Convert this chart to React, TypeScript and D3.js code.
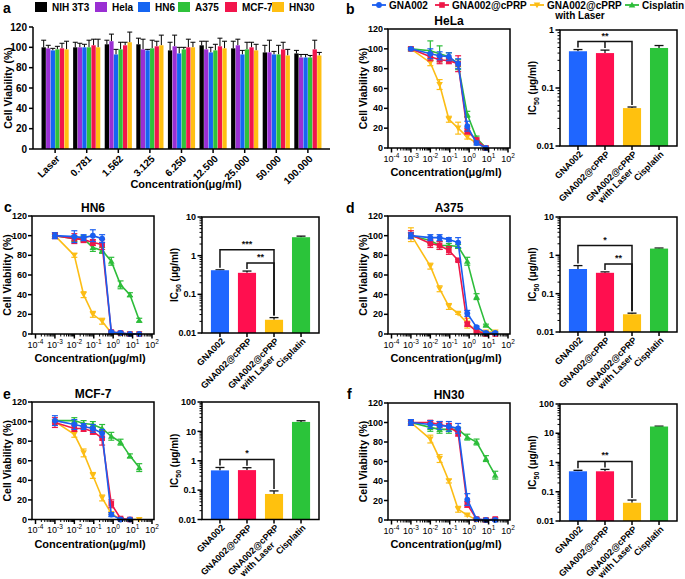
import React from 'react';
import * as d3 from 'd3';

const FONT = 'Arial, "Liberation Sans", Helvetica, sans-serif';

// panel a: viability of six cell lines (no laser vs. GNA002@cPRP doses)
const CELL_LINES = ['NIH 3T3', 'Hela', 'HN6', 'A375', 'MCF-7', 'HN30'];
const CELL_COLORS = ['#000000', '#9a2fd3', '#1565f2', '#2fc23b', '#f2154c', '#ffbf12'];
const DOSE_LABELS = ['Laser', '0.781', '1.562', '3.125', '6.250', '12.500', '25.000', '50.000', '100.000'];
const NIH3T3_VIAB = [100, 100, 103, 103, 97, 102, 99, 95, 94];
const NIH3T3_ERR = [7, 5, 4, 6, 8, 4, 7, 7, 3];
const HELA_VIAB = [99, 100, 106, 98, 101, 98, 102, 95, 90];
const HELA_ERR = [3, 4, 7, 10, 11, 8, 6, 12, 3];
const HN6_VIAB = [97, 100, 93, 97, 94, 95, 93, 93, 90];
const HN6_ERR = [2, 3, 5, 1, 6, 5, 4, 3, 3];
const A375_VIAB = [98, 100, 98, 99, 98, 97, 98, 93, 90];
const A375_ERR = [3, 7, 7, 8, 2, 6, 7, 9, 2];
const MCF7_VIAB = [99, 102, 102, 101, 100, 101, 100, 98, 98];
const MCF7_ERR = [5, 6, 3, 5, 8, 8, 5, 7, 9];
const HN30_VIAB = [98, 100, 105, 102, 100, 99, 97, 92, 92];
const HN30_ERR = [8, 8, 10, 10, 5, 7, 6, 6, 3];

// panels b-f: dose response curves + IC50
const CONC = [0.001, 0.01, 0.03, 0.09, 0.27, 0.8, 2.4, 7.3, 22];
const SERIES = ['GNA002', 'GNA002@cPRP', 'GNA002@cPRP with Laser', 'Cisplatin'];
const SERIES_COLORS = ['#1a5ef0', '#ee1747', '#fcbd15', '#2dbd3a'];
const BAR_COLORS = ['#1f66ff', '#ff0f4f', '#ffc10e', '#2bc43a'];

const HELA_CURVES = [
  [100, 95, 93, 92, 85, 22, 5, 0, null],
  [100, 92, 89, 88, 85, 17, 8, 0, null],
  [100, 86, 64, 29, 20, 11, 5, 0, null],
  [100, 98, 95, 92, 84, 34, 10, 0, null],
];
const HELA_CURVE_ERR = [
  [1, 5, 4, 4, 5, 5, 2, 0.5, 0],
  [1, 4, 4, 3, 8, 3, 2, 0.5, 0],
  [1, 3, 5, 3, 6, 2, 1, 0.5, 0],
  [1, 10, 8, 4, 5, 3, 2, 0.5, 0],
];
const HELA_IC50 = [0.43, 0.4, 0.045, 0.49];
const HELA_IC50_ERR = [0.03, 0.05, 0.002, 0.05];

const HN6_CURVES = [
  [100, 99, 98, 100, 97, 2, 1, 0, 0],
  [100, 97, 96, 93, 91, 2, 1, 0, 0],
  [100, 80, 40, 20, 13, 1, 0, 0, 0],
  [100, 97, 97, 88, 85, 74, 50, 40, 14],
];
const HN6_CURVE_ERR = [
  [3, 6, 3, 6, 4, 1, 1, 0.5, 0.5],
  [3, 5, 3, 3, 5, 1, 1, 0.5, 0.5],
  [1, 2, 3, 3, 3, 1, 0.5, 0.5, 0.5],
  [1, 3, 3, 4, 3, 4, 4, 2, 2],
];
const HN6_IC50 = [0.42, 0.36, 0.022, 3.0];
const HN6_IC50_ERR = [0.01, 0.04, 0.003, 0.2];

const A375_CURVES = [
  [100, 98, 98, 96, 93, 21, 7, 1, 1],
  [101, 92, 90, 85, 75, 10, 3, 0, 0],
  [101, 69, 46, 28, 21, 11, 3, 2, 2],
  [100, 95, 90, 90, 89, 74, 38, 9, 1],
];
const A375_CURVE_ERR = [
  [3, 3, 3, 2, 5, 3, 1, 1, 1],
  [4, 4, 4, 4, 1, 2, 1, 0.5, 0.5],
  [7, 3, 3, 3, 1, 5, 1, 1, 1],
  [2, 3, 4, 2, 2, 4, 3, 1, 1],
];
const A375_IC50 = [0.44, 0.35, 0.029, 1.5];
const A375_IC50_ERR = [0.1, 0.02, 0.002, 0.05];

const MCF7_CURVES = [
  [101, 97, 95, 93, 88, 5, 0, 0, null],
  [99, 93, 93, 90, 83, 16, 1, 0, null],
  [100, 87, 68, 45, 22, 6, 0, 0, 0],
  [101, 101, 98, 97, 93, 85, 79, 65, 53],
];
const MCF7_CURVE_ERR = [
  [5, 5, 3, 4, 4, 2, 1, 1, 0],
  [5, 3, 3, 3, 7, 4, 1, 1, 0],
  [1, 3, 4, 3, 3, 1, 0.5, 0.5, 0.5],
  [1, 3, 3, 3, 4, 4, 3, 2, 4],
];
const MCF7_IC50 = [0.47, 0.48, 0.074, 21];
const MCF7_IC50_ERR = [0.12, 0.1, 0.02, 2];

const HN30_CURVES = [
  [100, 98, 97, 96, 94, 21, 1, 0, 0],
  [100, 100, 98, 96, 89, 16, 1, 0, 1],
  [100, 83, 63, 40, 11, 5, 0, 0, 0],
  [100, 95, 93, 93, 93, 85, 80, 63, 46],
];
const HN30_CURVE_ERR = [
  [3, 4, 4, 5, 5, 6, 1, 1, 1],
  [3, 2, 3, 3, 3, 3, 1, 1, 1],
  [1, 4, 4, 2, 3, 1, 0.5, 0.5, 0.5],
  [1, 4, 4, 4, 2, 3, 3, 3, 4],
];
const HN30_IC50 = [0.5, 0.5, 0.042, 17];
const HN30_IC50_ERR = [0.04, 0.08, 0.01, 0.5];

type Bracket = { from: number; to: number; label: string; level: number; mid?: number };

const HELA_SIG: Bracket[] = [{ from: 0, to: 2, mid: 1, label: '**', level: 0 }];
const HN6_SIG: Bracket[] = [
  { from: 0, to: 2, label: '***', level: 1 },
  { from: 1, to: 2, label: '**', level: 0 },
];
const A375_SIG: Bracket[] = [
  { from: 0, to: 2, label: '*', level: 1 },
  { from: 1, to: 2, label: '**', level: 0 },
];
const MCF7_SIG: Bracket[] = [{ from: 0, to: 2, mid: 1, label: '*', level: 0 }];
const HN30_SIG: Bracket[] = [{ from: 0, to: 2, mid: 1, label: '**', level: 0 }];

const Marker = ({ kind, cx, cy, color }: { kind: number; cx: number; cy: number; color: string }) => {
  if (kind === 0) return <circle cx={cx} cy={cy} r={2.9} fill={color} />;
  if (kind === 1) return <rect x={cx - 2.8} y={cy - 2.8} width={5.6} height={5.6} fill={color} />;
  if (kind === 2)
    return <path d={`M${cx - 3.3},${cy - 2.6}L${cx + 3.3},${cy - 2.6}L${cx},${cy + 3.2}Z`} fill={color} />;
  return <path d={`M${cx - 3.3},${cy + 2.6}L${cx + 3.3},${cy + 2.6}L${cx},${cy - 3.2}Z`} fill={color} />;
};

const PanelLetter = ({ x, y, t }: { x: number; y: number; t: string }) => (
  <text x={x} y={y} fontSize={14} fontWeight="bold">
    {t}
  </text>
);

function PanelA() {
  const x0 = 33;
  const top = 27;
  const bottom = 149;
  const y = d3.scaleLinear().domain([0, 120]).range([bottom, top]);
  const xg = d3.scaleBand().domain(DOSE_LABELS).range([x0, 330]).paddingInner(0.14).paddingOuter(0.27);
  const xi = d3.scaleBand().domain(CELL_LINES).range([0, xg.bandwidth()]).paddingInner(0.06);
  const viab = [NIH3T3_VIAB, HELA_VIAB, HN6_VIAB, A375_VIAB, MCF7_VIAB, HN30_VIAB];
  const errs = [NIH3T3_ERR, HELA_ERR, HN6_ERR, A375_ERR, MCF7_ERR, HN30_ERR];
  const legendX = [35, 95, 138, 178, 225, 272];

  return (
    <g>
      <PanelLetter x={3} y={13} t="a" />
      {CELL_LINES.map((c, i) => (
        <g key={c}>
          <rect x={legendX[i]} y={2} width={12} height={10} fill={CELL_COLORS[i]} />
          <text x={legendX[i] + 17} y={11} fontSize={10} fontWeight="bold">
            {c}
          </text>
        </g>
      ))}
      {DOSE_LABELS.map((d, gi) =>
        CELL_LINES.map((c, si) => {
          const bx = (xg(d) as number) + (xi(c) as number);
          const bw = xi.bandwidth();
          const v = viab[si][gi];
          const e = errs[si][gi];
          return (
            <g key={d + c}>
              <line x1={bx + bw / 2} x2={bx + bw / 2} y1={y(v)} y2={y(v + e)} stroke="#000" strokeWidth={1} />
              <line x1={bx + bw / 2 - 2.5} x2={bx + bw / 2 + 2.5} y1={y(v + e)} y2={y(v + e)} stroke="#000" strokeWidth={1} />
              <rect x={bx} y={y(v)} width={bw} height={bottom - y(v)} fill={CELL_COLORS[si]} />
            </g>
          );
        })
      )}
      <line x1={x0} x2={x0} y1={top} y2={bottom} stroke="#000" strokeWidth={1.5} />
      <line x1={x0} x2={330} y1={bottom} y2={bottom} stroke="#000" strokeWidth={1.5} />
      {y.ticks(6).map((t) => (
        <g key={t}>
          <line x1={x0 - 4} x2={x0} y1={y(t)} y2={y(t)} stroke="#000" strokeWidth={1.5} />
          <text x={x0 - 6} y={y(t)} dy="0.35em" textAnchor="end" fontSize={10} fontWeight="bold">
            {t}
          </text>
        </g>
      ))}
      {DOSE_LABELS.map((d) => {
        const cx = (xg(d) as number) + xg.bandwidth() / 2;
        return (
          <g key={d}>
            <line x1={cx} x2={cx} y1={bottom} y2={bottom + 4} stroke="#000" strokeWidth={1.5} />
            <text
              transform={`translate(${cx + 3},${bottom + 8}) rotate(-45)`}
              textAnchor="end"
              dy="0.35em"
              fontSize={10}
              fontWeight="bold"
            >
              {d}
            </text>
          </g>
        );
      })}
      <text transform={`translate(${x0 - 21},${(top + bottom) / 2}) rotate(-90)`} textAnchor="middle" fontSize={10.5} fontWeight="bold">
        Cell Viability (%)
      </text>
      <text x={186} y={188} textAnchor="middle" fontSize={11} fontWeight="bold">
        Concentration(μg/ml)
      </text>
    </g>
  );
}

function Legend() {
  const xs = [372, 435, 530, 625];
  return (
    <g>
      {SERIES.map((s, i) => {
        const lines = s.split(' with ');
        return (
          <g key={s}>
            <line x1={xs[i]} x2={xs[i] + 14} y1={5} y2={5} stroke={SERIES_COLORS[i]} strokeWidth={1.8} />
            <Marker kind={i} cx={xs[i] + 7} cy={5} color={SERIES_COLORS[i]} />
            <text x={xs[i] + 17} y={8.5} fontSize={10} fontWeight="bold">
              {lines[0]}
            </text>
            {lines[1] && (
              <text x={xs[i] + 17 + 33} y={18.5} fontSize={10} fontWeight="bold" textAnchor="middle">
                {'with ' + lines[1]}
              </text>
            )}
          </g>
        );
      })}
    </g>
  );
}

function CurveChart({
  x0,
  top,
  bottom,
  title,
  values,
  errors,
}: {
  x0: number;
  top: number;
  bottom: number;
  title: string;
  values: (number | null)[][];
  errors: number[][];
}) {
  const right = x0 + 122;
  const x = d3.scaleLog().domain([1e-4, 1e2]).range([x0 + 3.5, x0 + 120]);
  const y = d3.scaleLinear().domain([0, 120]).range([bottom, top]);
  const line = d3
    .line<number | null>()
    .defined((d) => d != null)
    .x((_, i) => x(CONC[i]))
    .y((d) => y(d as number));
  const decades = d3.range(-4, 3);
  const minors: number[] = [];
  for (let k = -4; k < 2; k++) for (let m = 2; m < 10; m++) minors.push(m * Math.pow(10, k));
  const order = [3, 2, 1, 0];

  return (
    <g>
      <text x={(x0 + right) / 2} y={top - 4} textAnchor="middle" fontSize={12} fontWeight="bold">
        {title}
      </text>
      {order.map((si) => (
        <g key={si}>
          <path d={line(values[si]) || ''} fill="none" stroke={SERIES_COLORS[si]} strokeWidth={1.6} />
          {values[si].map((v, i) => {
            if (v == null) return null;
            const e = errors[si][i];
            const cx = x(CONC[i]);
            return (
              <g key={i}>
                {e > 0.6 && (
                  <g stroke={SERIES_COLORS[si]} strokeWidth={1.2}>
                    <line x1={cx} x2={cx} y1={y(v - e)} y2={y(v + e)} />
                    <line x1={cx - 3} x2={cx + 3} y1={y(v - e)} y2={y(v - e)} />
                    <line x1={cx - 3} x2={cx + 3} y1={y(v + e)} y2={y(v + e)} />
                  </g>
                )}
                <Marker kind={si} cx={cx} cy={y(v)} color={SERIES_COLORS[si]} />
              </g>
            );
          })}
        </g>
      ))}
      <rect x={x0} y={top} width={right - x0} height={bottom - top} fill="none" stroke="#000" strokeWidth={1.5} />
      {y.ticks(6).map((t) => (
        <g key={t}>
          <line x1={x0 - 4} x2={x0} y1={y(t)} y2={y(t)} stroke="#000" strokeWidth={1.5} />
          <text x={x0 - 5} y={y(t)} dy="0.35em" textAnchor="end" fontSize={9} fontWeight="bold">
            {t}
          </text>
        </g>
      ))}
      {minors.map((m) => (
        <line key={m} x1={x(m)} x2={x(m)} y1={bottom} y2={bottom + 2.5} stroke="#000" strokeWidth={1} />
      ))}
      {decades.map((k) => (
        <g key={k}>
          <line x1={x(Math.pow(10, k))} x2={x(Math.pow(10, k))} y1={bottom} y2={bottom + 4.5} stroke="#000" strokeWidth={1.5} />
          <text x={x(Math.pow(10, k))} y={bottom + 13.5} textAnchor="middle" fontSize={9}>
            <tspan>10</tspan>
            <tspan dy={-4} fontSize={6.5}>
              {k}
            </tspan>
          </text>
        </g>
      ))}
      <text transform={`translate(${x0 - 21},${(top + bottom) / 2}) rotate(-90)`} textAnchor="middle" fontSize={10.5} fontWeight="bold">
        Cell Viability (%)
      </text>
      <text x={x0 + 58} y={bottom + 28} textAnchor="middle" fontSize={11} fontWeight="bold">
        Concentration(μg/ml)
      </text>
    </g>
  );
}

function IcChart({
  x0,
  right,
  top,
  bottom,
  maxVal,
  values,
  errors,
  brackets,
}: {
  x0: number;
  right: number;
  top: number;
  bottom: number;
  maxVal: number;
  values: number[];
  errors: number[];
  brackets: Bracket[];
}) {
  const y = d3.scaleLog().domain([0.01, maxVal]).range([bottom, top]);
  const x = d3.scaleBand().domain(SERIES).range([x0, right]).paddingInner(0.33).paddingOuter(0.33);
  const ticks = y.ticks();
  const isMajor = (t: number) => Math.abs(Math.log10(t) - Math.round(Math.log10(t))) < 1e-6;
  const cxOf = (i: number) => (x(SERIES[i]) as number) + x.bandwidth() / 2;
  const errTop = (i: number) => y(values[i] + errors[i]);

  return (
    <g>
      {SERIES.map((s, i) => {
        const bx = x(s) as number;
        const cx = cxOf(i);
        return (
          <g key={s}>
            <line x1={cx} x2={cx} y1={y(values[i])} y2={errTop(i)} stroke="#111" strokeWidth={1.3} />
            <line x1={cx - 4.5} x2={cx + 4.5} y1={errTop(i)} y2={errTop(i)} stroke="#111" strokeWidth={1.3} />
            <rect x={bx} y={y(values[i])} width={x.bandwidth()} height={bottom - y(values[i])} fill={BAR_COLORS[i]} />
          </g>
        );
      })}
      {brackets.map((b, bi) => {
        const idx = d3.range(b.from, b.to + 1);
        const by = (d3.min(idx, (i) => errTop(i)) as number) - 8 - b.level * 12;
        const xa = cxOf(b.from);
        const xb = cxOf(b.to);
        return (
          <g key={bi} stroke="#111" strokeWidth={1.5} fill="none">
            <path d={`M${xa},${errTop(b.from) - 2}V${by}H${xb}V${errTop(b.to) - 2}`} />
            {b.mid != null && <line x1={cxOf(b.mid)} x2={cxOf(b.mid)} y1={by} y2={errTop(b.mid) - 2} />}
            <text x={(xa + xb) / 2} y={by - 3} textAnchor="middle" fontSize={9} fontWeight="bold" stroke="none" fill="#111">
              {b.label}
            </text>
          </g>
        );
      })}
      <rect x={x0} y={top} width={right - x0} height={bottom - top} fill="none" stroke="#000" strokeWidth={1.5} />
      {ticks.map((t) => (
        <line key={t} x1={x0 - (isMajor(t) ? 4.5 : 2.5)} x2={x0} y1={y(t)} y2={y(t)} stroke="#000" strokeWidth={isMajor(t) ? 1.5 : 1} />
      ))}
      {ticks.filter(isMajor).map((t) => (
        <text key={t} x={x0 - 6} y={y(t)} dy="0.35em" textAnchor="end" fontSize={9} fontWeight="bold">
          {d3.format('~g')(t)}
        </text>
      ))}
      {SERIES.map((s, i) => {
        const cx = cxOf(i);
        const lines = s.split(' with ');
        return (
          <g key={s}>
            <line x1={cx} x2={cx} y1={bottom} y2={bottom + 4} stroke="#000" strokeWidth={1.5} />
            <g transform={`translate(${cx + 3},${bottom + 6.5}) rotate(-45)`} fontSize={9} fontWeight="bold">
              <text textAnchor="end" dy="0.35em">
                {lines[0]}
              </text>
              {lines[1] && (
                <text x={-15} y={9.5} textAnchor="end" dy="0.35em">
                  {'with ' + lines[1]}
                </text>
              )}
            </g>
          </g>
        );
      })}
      <text transform={`translate(${x0 - 24},${(top + bottom) / 2}) rotate(-90)`} textAnchor="middle" fontSize={10} fontWeight="bold">
        <tspan>IC</tspan>
        <tspan dy={3} fontSize={7}>
          50
        </tspan>
        <tspan dy={-3}> (μg/ml)</tspan>
      </text>
    </g>
  );
}

export default function App() {
  return (
    <svg
      width={685}
      height={579}
      style={{ position: 'absolute', left: 0, top: 0, background: '#fff' }}
      fontFamily={FONT}
    >
      <rect width={685} height={579} fill="#fff" />
      <PanelA />
      <PanelLetter x={346} y={14} t="b" />
      <Legend />
      <CurveChart x0={388} top={29} bottom={148} title="HeLa" values={HELA_CURVES} errors={HELA_CURVE_ERR} />
      <IcChart x0={560} right={677} top={30} bottom={146} maxVal={1} values={HELA_IC50} errors={HELA_IC50_ERR} brackets={HELA_SIG} />

      <PanelLetter x={4} y={212} t="c" />
      <CurveChart x0={32} top={216} bottom={334} title="HN6" values={HN6_CURVES} errors={HN6_CURVE_ERR} />
      <IcChart x0={202} right={319} top={217} bottom={333} maxVal={10} values={HN6_IC50} errors={HN6_IC50_ERR} brackets={HN6_SIG} />

      <PanelLetter x={346} y={213} t="d" />
      <CurveChart x0={388} top={216} bottom={334} title="A375" values={A375_CURVES} errors={A375_CURVE_ERR} />
      <IcChart x0={560} right={677} top={217} bottom={332} maxVal={10} values={A375_IC50} errors={A375_IC50_ERR} brackets={A375_SIG} />

      <PanelLetter x={3} y={399} t="e" />
      <CurveChart x0={32} top={402} bottom={519.5} title="MCF-7" values={MCF7_CURVES} errors={MCF7_CURVE_ERR} />
      <IcChart x0={202} right={319} top={402} bottom={519.5} maxVal={100} values={MCF7_IC50} errors={MCF7_IC50_ERR} brackets={MCF7_SIG} />

      <PanelLetter x={347} y={399} t="f" />
      <CurveChart x0={388} top={403} bottom={520} title="HN30" values={HN30_CURVES} errors={HN30_CURVE_ERR} />
      <IcChart x0={560} right={677} top={404} bottom={521} maxVal={100} values={HN30_IC50} errors={HN30_IC50_ERR} brackets={HN30_SIG} />
    </svg>
  );
}
